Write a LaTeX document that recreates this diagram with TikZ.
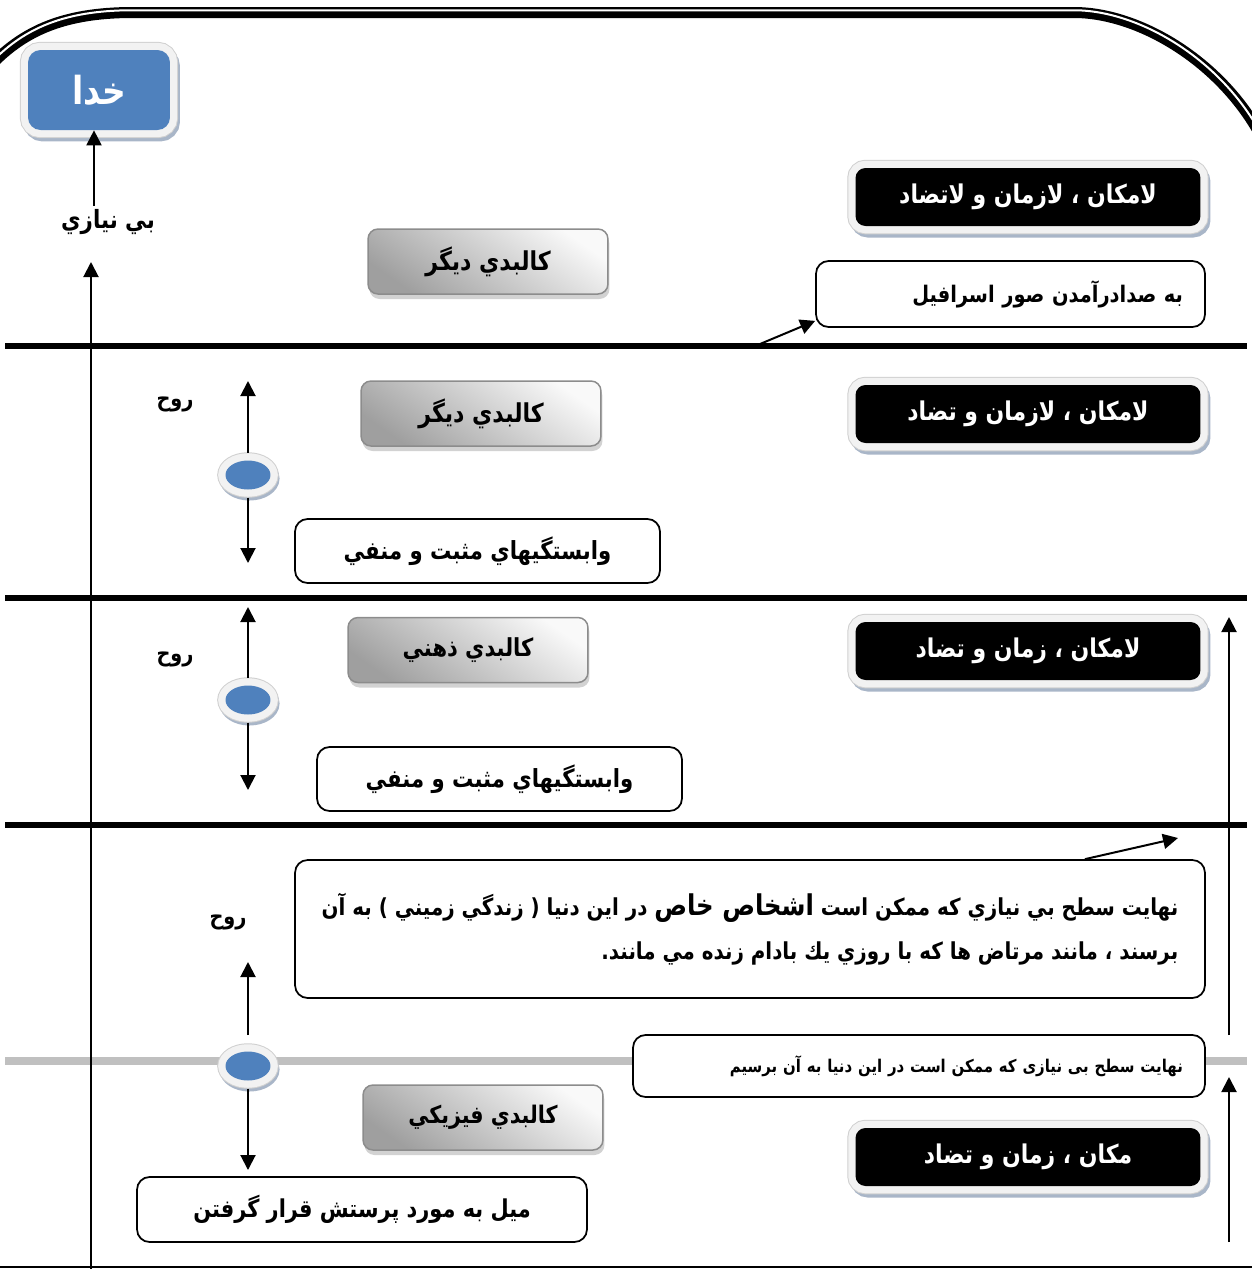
\documentclass[tikz,border=0pt]{standalone}
\usepackage{fontspec}
\usetikzlibrary{arrows.meta,calc,shapes.geometric}
\TeXXeTstate=1
\newfontfamily\fafont[Script=Arabic,FakeStretch=0.85]{DejaVu Sans}
\newcommand\fatext[1]{\fafont\bfseries\beginR #1\endR}
\newcommand\fsz[1]{\fontsize{#1}{1.2\dimexpr#1pt\relax}\selectfont}
\definecolor{godblue}{HTML}{4F81BD}
\definecolor{framegray}{HTML}{F2F2F2}
\definecolor{edgegray}{HTML}{D0D0D0}
\definecolor{shadowcol}{HTML}{A9B6C8}
\definecolor{sepgray}{HTML}{C0C0C0}
\tikzset{
  arr/.style={line width=0.04cm, -{Triangle[width=0.3cm,length=0.3cm]}},
  sepline/.style={line width=0.12cm},
  framed/.style={
    preaction={draw=shadowcol, line width=0.3cm, transform canvas={xshift=0.05cm,yshift=-0.08cm}},
    preaction={draw=edgegray, line width=0.33cm},
    preaction={draw=framegray, line width=0.29cm}},
  blackbox/.style={rectangle, rounded corners=0.2cm, fill=black, text=white, framed,
    minimum width=6.9cm, minimum height=1.16cm, inner sep=0pt, font=\fsz{14.7}},
  graybox/.style={rectangle, rounded corners=0.2cm, draw=gray!90, line width=0.03cm,
    preaction={fill=gray!35, transform canvas={xshift=0.03cm,yshift=-0.1cm}},
    top color=gray!5, bottom color=gray!75, shading angle=-35,
    minimum width=4.8cm, minimum height=1.3cm, inner sep=0pt},
  whitebox/.style={rectangle, rounded corners=0.25cm, draw=black, line width=0.035cm, fill=white,
    inner sep=0pt},
  spirit/.style={ellipse, fill=godblue, minimum width=0.9cm, minimum height=0.58cm,
    inner sep=0pt, outer sep=0.16cm,
    preaction={draw=shadowcol, line width=0.3cm, transform canvas={xshift=0.03cm,yshift=-0.07cm}},
    preaction={draw=edgegray, line width=0.33cm},
    preaction={draw=framegray, line width=0.29cm}},
  plainlabel/.style={inner sep=0pt}
}
\begin{document}
\begin{tikzpicture}[x=0.02cm,y=-0.02cm]
\useasboundingbox (0,0) rectangle (1252,1269);

% curved double border along the top
\draw[line width=0.22cm] (-8,64) .. controls (25,30) and (65,13) .. (130,12.5)
  -- (1075,12.5) .. controls (1140,13) and (1222,62) .. (1262,138);
\draw[white, line width=0.04cm, yshift=0.045cm] (-8,64) .. controls (25,30) and (65,13) .. (130,12.5)
  -- (1075,12.5) .. controls (1140,13) and (1222,62) .. (1262,138);

% level separators
\draw[sepline] (5,346) -- (1247,346);
\draw[sepline] (5,598) -- (1247,598);
\draw[sepline] (5,825) -- (1247,825);
\draw[sepline, sepgray, line width=0.15cm] (5,1061) -- (1247,1061);
\draw[line width=0.04cm] (0,1267) -- (1252,1267);

% main ascent axis
\coordinate (axb) at (91,1269);
\coordinate (axt) at (91,262);
\draw[arr] (axb) -- (axt);

% God
\node[rectangle, rounded corners=0.25cm, fill=godblue, framed, minimum width=2.84cm,
  minimum height=1.6cm, inner sep=0pt, text=white, font=\fsz{22}]
  (god) at (99,90) {\raisebox{-3pt}{\fatext{خدا}}};
\node[plainlabel, font=\fsz{14.3}] (need) at (108,222) {\fatext{بي نيازي}};
\coordinate (nzt) at (94,206);
\draw[arr] (nzt) -- (nzt |- god.south);

% black boxes: state of place, time and contrast
\node[blackbox] (b1) at (1028,197) {\fatext{لامكان ، لازمان و لاتضاد}};
\node[blackbox] (b2) at (1028,414) {\fatext{لامكان ، لازمان و تضاد}};
\node[blackbox] (b3) at (1028,651) {\fatext{لامكان ، زمان و تضاد}};
\node[blackbox] (b4) at (1028,1157) {\fatext{مكان ، زمان و تضاد}};

% bodies
\node[graybox, font=\fsz{14.8}] (g1) at (488,261.5) {\fatext{كالبدي ديگر}};
\node[graybox, font=\fsz{14.8}] (g2) at (481,413.5) {\fatext{كالبدي ديگر}};
\node[graybox, font=\fsz{14.1}] (g3) at (468,650) {\fatext{كالبدي ذهني}};
\node[graybox, font=\fsz{13.8}] (g4) at (483,1117.5) {\fatext{كالبدي فيزيكي}};

% white boxes
\node[whitebox, minimum width=7.78cm, minimum height=1.32cm, text width=6.9cm, align=right,
  font=\fsz{13}] (w1) at (1010.5,294) {\raisebox{-2pt}{\fatext{به صدادرآمدن صور اسرافيل}}};
\node[whitebox, minimum width=7.3cm, minimum height=1.28cm, font=\fsz{14.2}] (w2) at (477.5,551)
  {\fatext{وابستگيهاي مثبت و منفي}};
\node[whitebox, minimum width=7.3cm, minimum height=1.28cm, font=\fsz{14.2}] (w3) at (499.5,779)
  {\fatext{وابستگيهاي مثبت و منفي}};
\node[whitebox, minimum width=18.2cm, minimum height=2.76cm, align=right,
  font=\fontsize{13.3}{25}\selectfont] (w4) at (750,929)
  {\fatext{نهايت سطح بي نيازي كه ممكن است {\fontsize{16.3}{25}\selectfont اشخاص خاص} در اين دنيا ( زندگي زميني ) به آن}\\
   \fatext{برسند ، مانند مرتاض ها كه با روزي يك بادام زنده مي مانند.}};
\node[whitebox, minimum width=11.44cm, minimum height=1.24cm, text width=10.56cm, align=right,
  font=\fsz{10}] (w5) at (919,1066)
  {\fatext{نهايت سطح بی نيازی که ممکن است در اين دنيا به آن برسيم}};
\node[whitebox, minimum width=9cm, minimum height=1.3cm, font=\fsz{14}] (w6) at (362,1209.5)
  {\fatext{ميل به مورد پرستش قرار گرفتن}};

% spirit markers
\node[plainlabel, font=\fsz{12.9}] (r1) at (175,404) {\fatext{روح}};
\node[plainlabel, font=\fsz{12.9}] (r2) at (175,659) {\fatext{روح}};
\node[plainlabel, font=\fsz{12.9}] (r3) at (228,922) {\fatext{روح}};
\node[spirit] (s1) at (248,475) {};
\node[spirit] (s2) at (248,700) {};
\node[spirit] (s3) at (248,1066) {};
\coordinate (s1t) at (248,381);
\coordinate (s1b) at (248,563);
\coordinate (s2t) at (248,607);
\coordinate (s2b) at (248,790);
\coordinate (s3a) at (248,1035);
\coordinate (s3t) at (248,962);
\coordinate (s3b) at (248,1170);
\draw[arr] (s1.north) -- (s1t);
\draw[arr] (s1.south) -- (s1b);
\draw[arr] (s2.north) -- (s2t);
\draw[arr] (s2.south) -- (s2b);
\draw[arr] (s3a) -- (s3t);
\draw[arr] (s3.south) -- (s3b);

% right-hand ascent arrows
\coordinate (ra) at (1229,1035);
\coordinate (rat) at (1229,617);
\coordinate (rb) at (1229,1242);
\coordinate (rbt) at (1229,1077);
\draw[arr] (ra) -- (rat);
\draw[arr] (rb) -- (rbt);

% slanted pointers
\coordinate (d1) at (760,344);
\draw[arr] (d1) -- ([yshift=0.14cm]w1.south west);
\coordinate (d2) at (1178,838);
\draw[arr] ([xshift=6.7cm]w4.north) -- (d2);
\end{tikzpicture}
\end{document}
